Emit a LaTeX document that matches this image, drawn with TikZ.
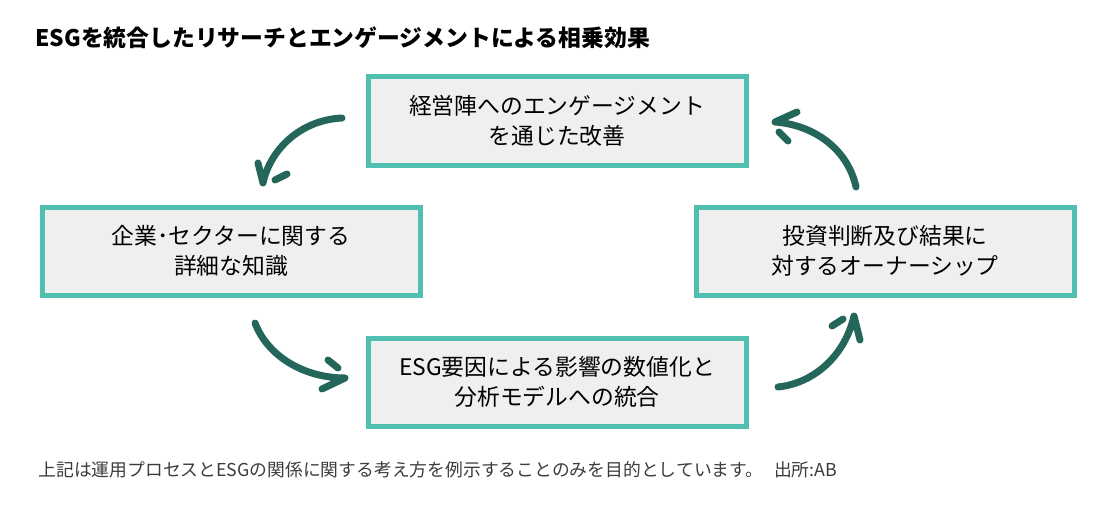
\documentclass[tikz,border=0pt]{standalone}
\usepackage{fontspec}
\setmainfont{Noto Sans CJK JP}
\usepackage{tikz}
\usetikzlibrary{positioning}
\definecolor{tealline}{HTML}{4FBFAF}
\definecolor{boxgray}{HTML}{EFEFEF}
\definecolor{arrowgreen}{HTML}{24665A}
\definecolor{notegray}{HTML}{3C3C3C}

\begin{document}
\begin{tikzpicture}[x=0.5pt,y=-0.5pt,
    box/.style={draw=tealline,fill=boxgray,line width=2.5pt,minimum width=189pt,minimum height=44pt,align=center,font=\fontsize{11.4}{15}\selectfont},
    flow/.style={draw=arrowgreen,line width=3.5pt,line cap=round,line join=round}]
    \useasboundingbox (0,0) rectangle (1108,508);
    \node[anchor=west,inner sep=0,font=\fontsize{11.4}{13}\selectfont\bfseries] (title) at (35,38) {ESGを統合したリサーチとエンゲージメントによる相乗効果};

    \node[box] (top) at (557,121) {経営陣へのエンゲージメント\\を通じた改善};
    \node[box,on grid,below left=65pt and 163pt of top] (left) {企業･セクターに関する\\詳細な知識};
    \node[box,on grid,below right=65pt and 164pt of top] (right) {投資判断及び結果に\\対するオーナーシップ};
    \node[box,on grid,below=130.5pt of top] (bottom) {ESG要因による影響の数値化と\\分析モデルへの統合};

    \coordinate (tl start) at (342,118);
    \coordinate (tl tip) at (263,183);
    \coordinate (tl barb) at (258,163);
    \coordinate (tl gapa) at (275,180);
    \coordinate (tl gapb) at (287,174);
    \draw[flow] (tl start) .. controls (300,120) and (270,150) .. (tl tip) -- (tl barb);
    \draw[flow] (tl gapa) -- (tl gapb);

    \coordinate (bl start) at (255,323);
    \coordinate (bl tip) at (345,378);
    \coordinate (bl barb) at (322,389);
    \coordinate (bl gapa) at (328,360);
    \coordinate (bl gapb) at (338,368);
    \draw[flow] (bl start) .. controls (268,357) and (305,378) .. (bl tip) -- (bl barb);
    \draw[flow] (bl gapa) -- (bl gapb);

    \coordinate (br start) at (778,387);
    \coordinate (br tip) at (854,316);
    \coordinate (br barb) at (860,340);
    \coordinate (br gapa) at (832,326);
    \coordinate (br gapb) at (843,319);
    \draw[flow] (br start) .. controls (815,383) and (845,355) .. (br tip) -- (br barb);
    \draw[flow] (br gapa) -- (br gapb);

    \coordinate (tr start) at (856,187);
    \coordinate (tr tip) at (775,122);
    \coordinate (tr barb) at (797,112);
    \coordinate (tr gapa) at (779,132);
    \coordinate (tr gapb) at (788,141);
    \draw[flow] (tr start) .. controls (848,150) and (815,125) .. (tr tip) -- (tr barb);
    \draw[flow] (tr gapa) -- (tr gapb);

    \node[anchor=west,inner sep=0,text=notegray,font=\fontsize{8.9}{11}\selectfont] (note) at (38,470) {上記は運用プロセスとESGの関係に関する考え方を例示することのみを目的としています。\hspace{0.6em}出所:AB};
\end{tikzpicture}
\end{document}
